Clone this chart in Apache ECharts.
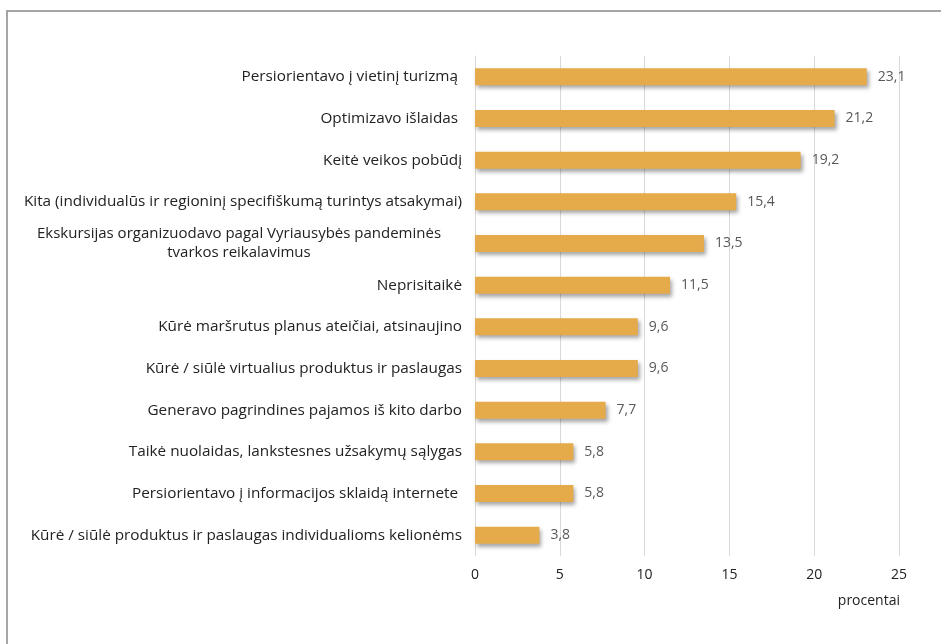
<!DOCTYPE html>
<html>
<head>
<meta charset="utf-8">
<script src="https://cdn.jsdelivr.net/npm/echarts@6/dist/echarts.min.js"></script>
<style>
  html, body { margin: 0; padding: 0; background: #ffffff; }
  #chart { width: 941px; height: 644px; }
</style>
</head>
<body>
<div id="chart"></div>
<script>
// Categories listed bottom-to-top (ECharts category y-axis starts at the bottom)
const categories = [
  'Kūrė / siūlė produktus ir paslaugas individualioms kelionėms',
  'Persiorientavo į informacijos sklaidą internete ',
  'Taikė nuolaidas, lankstesnes užsakymų sąlygas',
  'Generavo pagrindines pajamos iš kito darbo',
  'Kūrė / siūlė virtualius produktus ir paslaugas',
  'Kūrė maršrutus planus ateičiai, atsinaujino',
  'Neprisitaikė',
  'Ekskursijas organizuodavo pagal Vyriausybės pandeminės\ntvarkos reikalavimus',
  'Kita (individualūs ir regioninį specifiškumą turintys atsakymai)',
  'Keitė veikos pobūdį',
  'Optimizavo išlaidas ',
  'Persiorientavo į vietinį turizmą '
];
const values = [3.8, 5.8, 5.8, 7.7, 9.6, 9.6, 11.5, 13.5, 15.4, 19.2, 21.2, 23.1];
const axisTicks = [0, 5, 10, 15, 20, 25];
const axisTitle = 'procentai';

const FONT = '"Open Sans", "Noto Sans", sans-serif';

const chart = echarts.init(document.getElementById('chart'), null, { renderer: 'canvas' });

chart.setOption({
  backgroundColor: '#ffffff',
  animation: false,
  graphic: [{
    type: 'rect',
    shape: { x: 7, y: 11, width: 1200, height: 1200 },
    style: { fill: 'none', stroke: '#a6a6a6', lineWidth: 2 },
    silent: true
  }],
  title: {
    text: axisTitle,
    right: 41,
    top: 594,
    padding: 0,
    textStyle: { fontFamily: FONT, fontSize: 14, fontWeight: 'normal', color: '#222222' }
  },
  grid: { left: 475, right: 42, top: 56, bottom: 88, containLabel: false },
  xAxis: {
    type: 'value',
    min: axisTicks[0],
    max: axisTicks[axisTicks.length - 1],
    interval: 5,
    axisLine: { show: false },
    axisTick: { show: false },
    splitLine: { show: true, lineStyle: { color: '#d9d9d9', width: 1 } },
    axisLabel: {
      margin: 12,
      color: '#222222',
      fontFamily: FONT,
      fontSize: 14
    }
  },
  yAxis: {
    type: 'category',
    data: categories,
    axisLine: { show: true, lineStyle: { color: '#d9d9d9', width: 1 } },
    axisTick: { show: false },
    axisLabel: {
      margin: 13,
      color: '#222222',
      fontFamily: FONT,
      fontSize: 15.3,
      lineHeight: 19,
      formatter: function (v) {
        if (v.indexOf('\n') >= 0) {
          return v.split('\n').map(function (s) { return '{c|' + s + '}'; }).join('\n');
        }
        return v;
      },
      rich: {
        c: { width: 446, align: 'center', fontFamily: FONT, fontSize: 15, color: '#222222', lineHeight: 19 }
      }
    }
  },
  series: [{
    type: 'bar',
    data: values,
    barWidth: 17,
    itemStyle: {
      color: '#e5ab4a',
      shadowColor: 'rgba(0,0,0,0.35)',
      shadowBlur: 4,
      shadowOffsetX: 2,
      shadowOffsetY: 3
    },
    label: {
      show: true,
      position: 'right',
      distance: 11,
      color: '#595959',
      fontFamily: FONT,
      fontSize: 14,
      formatter: function (p) { return p.value.toFixed(1).replace('.', ','); }
    }
  }]
});
</script>
</body>
</html>
